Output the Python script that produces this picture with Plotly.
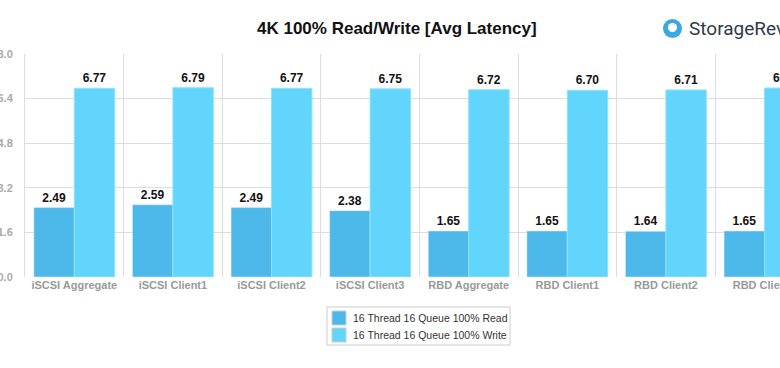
import plotly.graph_objects as go

categories = ["iSCSI Aggregate", "iSCSI Client1", "iSCSI Client2", "iSCSI Client3",
              "RBD Aggregate", "RBD Client1", "RBD Client2", "RBD Client3"]
read_vals = [2.49, 2.59, 2.49, 2.38, 1.65, 1.65, 1.64, 1.65]
write_vals = [6.77, 6.79, 6.77, 6.75, 6.72, 6.70, 6.71, 6.78]
read_name = "16 Thread 16 Queue 100% Read"
write_name = "16 Thread 16 Queue 100% Write"
y_ticks = [0, 1.6, 3.2, 4.8, 6.4, 8.0]
y_tick_labels = ["0.0", "1.6", "3.2", "4.8", "6.4", "8.0"]

READ_COLOR = "#4DB8EA"
WRITE_COLOR = "#62D5FD"
FONT = "Liberation Sans, Arial, Helvetica, sans-serif"
W, H = 780, 368
ML, MR, MT, MB = 25, 0, 54, 91
PW, PH = W - ML - MR, H - MT - MB


def px(sx):
    return (sx - ML) / PW


def py(sy):
    return (H - MB - sy) / PH


fig = go.Figure()
fig.add_trace(go.Bar(
    x=categories, y=read_vals, name=read_name,
    marker=dict(color=READ_COLOR),
    text=[f"{v:.2f}" for v in read_vals], textposition="outside",
    textfont=dict(family=FONT, size=12, color="#111111", weight="bold"),
    cliponaxis=True, showlegend=False,
))
fig.add_trace(go.Bar(
    x=categories, y=write_vals, name=write_name,
    marker=dict(color=WRITE_COLOR, line=dict(color="#8FE1FE", width=1)),
    text=[f"{v:.2f}" for v in write_vals], textposition="outside",
    textfont=dict(family=FONT, size=12, color="#111111", weight="bold"),
    cliponaxis=True, showlegend=False,
))

fig.update_layout(
    width=W, height=H,
    margin=dict(l=ML, r=MR, t=MT, b=MB, autoexpand=False),
    paper_bgcolor="white", plot_bgcolor="white",
    barmode="group", bargap=0.18, bargroupgap=0,
    font=dict(family=FONT),
    showlegend=False,
    xaxis=dict(
        range=[-0.5, -0.5 + PW / 98.6], automargin=False,
        tickson="boundaries", showgrid=True, gridcolor="#dddddd", gridwidth=1,
        ticks="", showline=False, zeroline=False,
        tickfont=dict(family=FONT, size=11, color="#999999", weight="bold"),
        fixedrange=True,
    ),
    yaxis=dict(
        range=[0, 8.0], tickvals=y_ticks, ticktext=y_tick_labels, automargin=False,
        showgrid=True, gridcolor="#dddddd", gridwidth=1,
        showline=True, linecolor="#dddddd", linewidth=1,
        zeroline=False, ticks="", ticklabelstandoff=9,
        tickfont=dict(family=FONT, size=11, color="#aaaaaa", weight="bold"),
        fixedrange=True,
    ),
)

# Title
fig.add_annotation(text="<b>4K 100% Read/Write [Avg Latency]</b>", xref="paper", yref="paper",
                   x=px(397), xanchor="center", y=py(29), yanchor="middle", showarrow=False,
                   font=dict(family=FONT, size=17, color="#111111"))

# Legend (drawn manually to match compact layout)
fig.add_shape(type="rect", xref="paper", yref="paper",
              x0=px(327), x1=px(510), y0=py(345), y1=py(307),
              line=dict(color="#cccccc", width=1), fillcolor="white")
for i, (name, color) in enumerate([(read_name, READ_COLOR), (write_name, WRITE_COLOR)]):
    cy = 318 + i * 17
    fig.add_shape(type="rect", xref="paper", yref="paper",
                  x0=px(332), x1=px(346), y0=py(cy + 7), y1=py(cy - 7),
                  line=dict(color="#cccccc", width=1), fillcolor=color)
    fig.add_annotation(text=name, xref="paper", yref="paper",
                       x=px(351), xanchor="left", y=py(cy), yanchor="middle",
                       showarrow=False,
                       font=dict(family=FONT, size=10.5, color="#333333"))

# StorageReview logo
fig.add_shape(type="circle", xref="paper", yref="paper",
              x0=px(663), x1=px(682), y0=py(38), y1=py(19),
              fillcolor="#3AA8E1", line=dict(width=0))
fig.add_shape(type="circle", xref="paper", yref="paper",
              x0=px(668), x1=px(677), y0=py(32), y1=py(23),
              fillcolor="white", line=dict(width=0))
fig.add_annotation(text="StorageReview", xref="paper", yref="paper",
                   x=px(687), xanchor="left", y=py(29), yanchor="middle",
                   showarrow=False,
                   font=dict(family="Roboto, Noto Sans, sans-serif", size=19, color="#2f3b46"))

fig.write_html("out.html", config={"displayModeBar": False},
               post_script="document.body.style.margin='0';")
